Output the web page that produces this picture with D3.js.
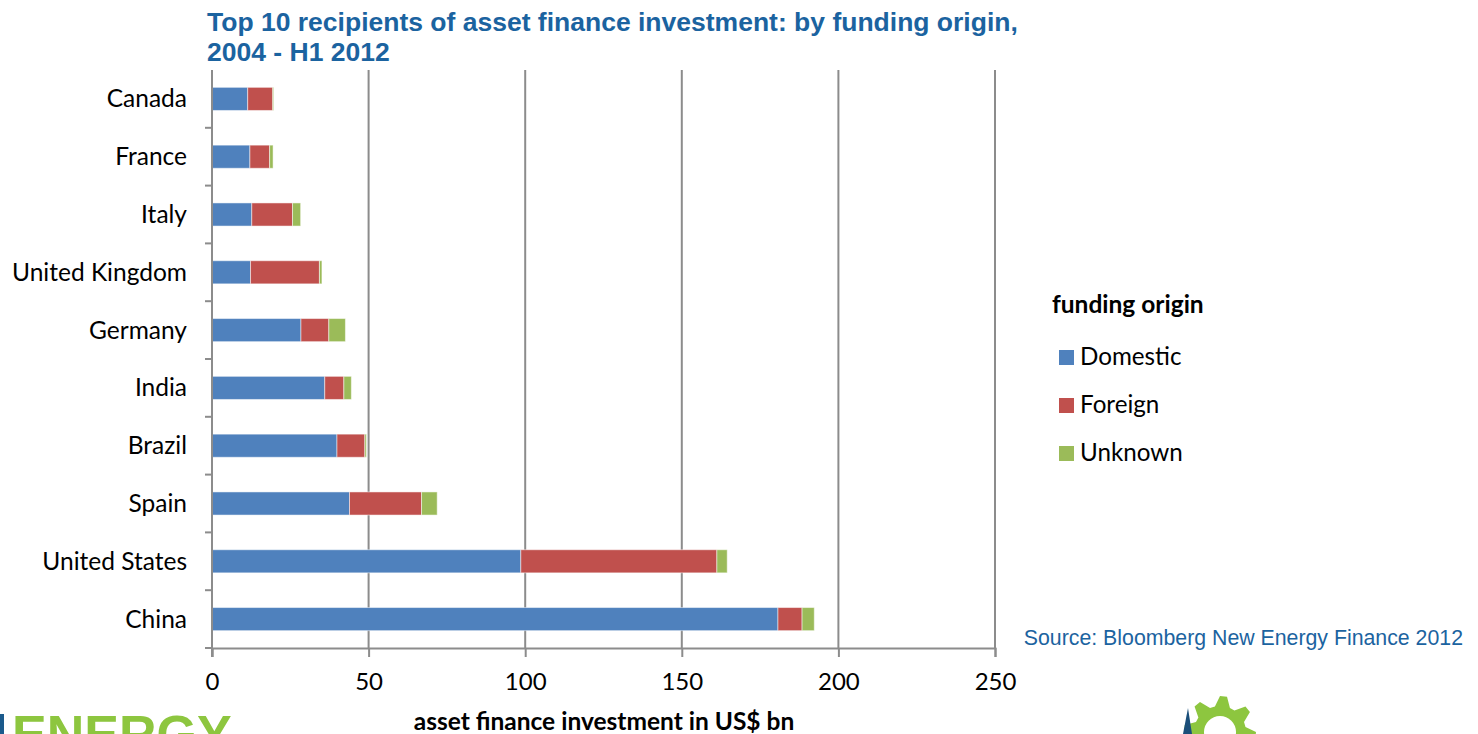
<!DOCTYPE html>
<html>
<head>
<meta charset="utf-8">
<script src="https://cdn.jsdelivr.net/npm/d3@7"></script>
<style>
  body { margin: 0; background: #fff; }
  svg { display: block; }
</style>
</head>
<body>
<div id="chart"></div>
<script>
const width = 1478, height = 734;
const margin = { top: 70, right: 483, bottom: 86, left: 212 };

// data (US$ bn)
const countries = ["Canada", "France", "Italy", "United Kingdom", "Germany", "India", "Brazil", "Spain", "United States", "China"];
const domestic = [11.4, 12.1, 12.7, 12.3, 28.4, 36.0, 39.9, 43.9, 98.6, 180.7];
const foreign = [8.0, 6.3, 13.0, 22.0, 8.9, 6.1, 8.9, 23.0, 62.6, 7.7];
const unknown = [0.3, 1.1, 2.6, 0.8, 5.3, 2.4, 0.5, 5.0, 3.3, 3.9];
const seriesNames = ["Domestic", "Foreign", "Unknown"];
const colors = ["#4f81bd", "#c0504d", "#9bbb59"];
const xTicks = [0, 50, 100, 150, 200, 250];

const rows = countries.map((c, i) => ({
  country: c,
  Domestic: domestic[i],
  Foreign: foreign[i],
  Unknown: unknown[i],
}));

const stack = d3.stack().keys(seriesNames)(rows);

const x = d3.scaleLinear().domain([0, 250]).range([margin.left, width - margin.right]);
const y = d3.scaleBand().domain(countries).range([margin.top, height - margin.bottom]).paddingInner(0.6).paddingOuter(0.3);
const band = d3.scaleBand().domain(countries).range([margin.top, height - margin.bottom]);

const labelFont = "Lato, 'Open Sans', sans-serif";
const arialFont = "'Liberation Sans', Arial, sans-serif";

const svg = d3.select("#chart").append("svg").attr("width", width).attr("height", height);

// title
const title = svg.append("text")
  .attr("font-family", arialFont)
  .attr("font-weight", "bold")
  .attr("font-size", 26.5)
  .attr("fill", "#1b63a0");
title.append("tspan").attr("x", 207).attr("y", 31).text("Top 10 recipients of asset finance investment: by funding origin,");
title.append("tspan").attr("x", 207).attr("y", 61).text("2004 - H1 2012");

// vertical gridlines
svg.append("g")
  .selectAll("line")
  .data(xTicks.slice(1))
  .join("line")
  .attr("x1", (d) => x(d))
  .attr("x2", (d) => x(d))
  .attr("y1", margin.top)
  .attr("y2", height - margin.bottom)
  .attr("stroke", "#8c8c8c")
  .attr("stroke-width", 2);

// bars
svg.append("g")
  .selectAll("g")
  .data(stack)
  .join("g")
  .attr("fill", (d, i) => colors[i])
  .selectAll("rect")
  .data((d) => d)
  .join("rect")
  .attr("x", (d) => x(d[0]))
  .attr("y", (d) => y(d.data.country))
  .attr("width", (d) => Math.max(0, x(d[1]) - x(d[0])))
  .attr("height", y.bandwidth())
  .attr("stroke", "#ffffff")
  .attr("stroke-opacity", 0.5)
  .attr("stroke-width", 1);

// x axis
const xAxis = svg.append("g")
  .attr("transform", `translate(0,${height - margin.bottom})`)
  .call(d3.axisBottom(x).tickValues(xTicks).tickSize(9).tickPadding(16));
xAxis.select(".domain").attr("stroke", "#8c8c8c").attr("stroke-width", 2);
xAxis.selectAll(".tick line").attr("stroke", "#8c8c8c").attr("stroke-width", 2);
xAxis.selectAll("text")
  .attr("font-family", labelFont)
  .attr("font-size", 24)
  .attr("fill", "#000");

// y axis with ticks between categories
const yAxis = svg.append("g").attr("transform", `translate(${margin.left},0)`);
yAxis.append("line")
  .attr("y1", margin.top)
  .attr("y2", height - margin.bottom + 9)
  .attr("stroke", "#8c8c8c")
  .attr("stroke-width", 2);
yAxis.selectAll(".ytick")
  .data(countries)
  .join("line")
  .attr("class", "ytick")
  .attr("x1", -7)
  .attr("x2", 0)
  .attr("y1", (d) => band(d) + band.bandwidth())
  .attr("y2", (d) => band(d) + band.bandwidth())
  .attr("stroke", "#8c8c8c")
  .attr("stroke-width", 2);
yAxis.selectAll(".ylabel")
  .data(countries)
  .join("text")
  .attr("class", "ylabel")
  .attr("x", -25)
  .attr("y", (d) => y(d) + y.bandwidth() / 2)
  .attr("dy", "0.35em")
  .attr("text-anchor", "end")
  .attr("font-family", labelFont)
  .attr("font-size", 24.5)
  .attr("fill", "#000")
  .text((d) => d);

// x axis title
svg.append("text")
  .attr("x", 604)
  .attr("y", 730)
  .attr("text-anchor", "middle")
  .attr("font-family", labelFont)
  .attr("font-weight", "bold")
  .attr("font-size", 24.5)
  .attr("fill", "#000")
  .text("asset finance investment in US$ bn");

// legend
const legend = svg.append("g").attr("transform", "translate(1052,0)");
legend.append("text")
  .attr("x", 0)
  .attr("y", 313)
  .attr("font-family", labelFont)
  .attr("font-weight", "bold")
  .attr("font-size", 24.5)
  .attr("fill", "#000")
  .text("funding origin");
const items = legend.selectAll(".item")
  .data(seriesNames)
  .join("g")
  .attr("class", "item")
  .attr("transform", (d, i) => `translate(0,${357 + i * 48})`);
items.append("rect")
  .attr("x", 7)
  .attr("y", -7)
  .attr("width", 15)
  .attr("height", 15)
  .attr("fill", (d, i) => colors[i]);
items.append("text")
  .attr("x", 28)
  .attr("y", 0)
  .attr("dy", "0.35em")
  .attr("font-family", labelFont)
  .attr("font-size", 24.2)
  .attr("fill", "#000")
  .text((d) => d);

// source
svg.append("text")
  .attr("x", 1463)
  .attr("y", 645)
  .attr("text-anchor", "end")
  .attr("font-family", arialFont)
  .attr("font-size", 21.3)
  .attr("fill", "#1b63a0")
  .text("Source: Bloomberg New Energy Finance 2012");

// logo fragments at the bottom edge
svg.append("rect").attr("x", 0).attr("y", 714).attr("width", 4).attr("height", 20).attr("fill", "#1b5a8c");
svg.append("text")
  .attr("x", 12)
  .attr("y", 752)
  .attr("font-family", arialFont)
  .attr("font-weight", "bold")
  .attr("font-size", 52)
  .attr("fill", "#8dc63f")
  .text("ENERGY");

// gear
const gearCx = 1220, gearCy = 732, rIn = 26, rOut = 36, teeth = 8;
const gearPts = [];
for (let i = 0; i < teeth * 4; i++) {
  const a = (i / (teeth * 4)) * 2 * Math.PI - Math.PI / 2;
  const r = (i % 4 === 0 || i % 4 === 1) ? rOut : rIn;
  gearPts.push([gearCx + r * Math.cos(a), gearCy + r * Math.sin(a)]);
}
svg.append("path")
  .attr("d", d3.line().curve(d3.curveLinearClosed)(gearPts))
  .attr("fill", "#8dc63f");
svg.append("circle").attr("cx", gearCx).attr("cy", gearCy).attr("r", 16).attr("fill", "#fff");
svg.append("path")
  .attr("d", "M1183,734 L1188,708 L1192,734 Z")
  .attr("fill", "#1b4f7a");
</script>
</body>
</html>
